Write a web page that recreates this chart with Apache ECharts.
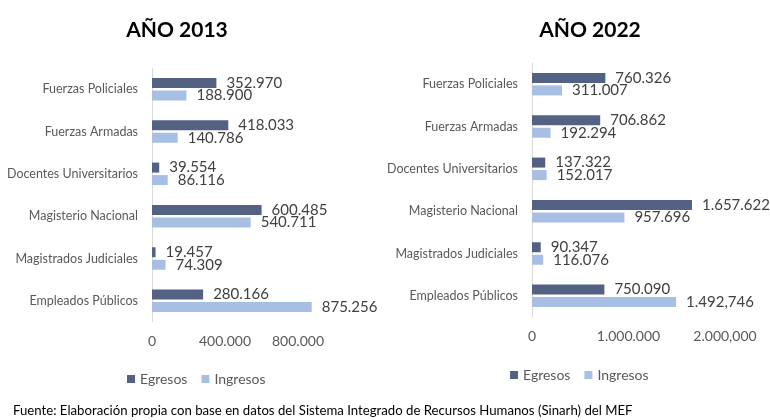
<!DOCTYPE html>
<html><head><meta charset="utf-8">
<script src="https://cdn.jsdelivr.net/npm/echarts@6/dist/echarts.min.js"></script>
<style>html,body{margin:0;padding:0;background:#fff}#c{width:770px;height:420px}</style>
</head><body><div id="c"></div>
<script>
const categories = ['Fuerzas Policiales','Fuerzas Armadas','Docentes Universitarios','Magisterio Nacional','Magistrados Judiciales','Empleados Públicos'];
const egresos2013 = [352970, 418033, 39554, 600485, 19457, 280166];
const ingresos2013 = [188900, 140786, 86116, 540711, 74309, 875256];
const egresos2022 = [760326, 706862, 137322, 1657622, 90347, 750090];
const ingresos2022 = [311007, 192294, 152017, 957696, 116076, 1492746];
const ticks2013 = ['0','400.000','800.000'];
const ticks2022 = ['0','1.000.000','2.000,000'];
const labelOverride = {'1492746': '1.492,746'};
const titles = ['AÑO 2013','AÑO 2022'];
const footer = 'Fuente: Elaboración propia con base en datos del Sistema Integrado de Recursos Humanos (Sinarh) del MEF';

const FONT = 'Lato, "Open Sans", sans-serif';
const C_EG = '#536282', C_IN = '#a8bfe4';
function fmt(v){ if(labelOverride[String(v)]) return labelOverride[String(v)]; return String(v).replace(/\B(?=(\d{3})+(?!\d))/g,'.'); }
function tickFmt(list, interval){ return function(v){ const i = Math.round(v/interval); return (v % interval === 0 && i < list.length) ? list[i] : ''; }; }

const chart = echarts.init(document.getElementById('c'));
function lbl(){ return {show:true, position:'right', distance:10, color:'#404040', fontSize:15, fontFamily:FONT, formatter:p=>fmt(p.value)}; }
chart.setOption({
  animation:false,
  title:[
    {text:titles[0], left:172, top:15, textAlign:'center', textStyle:{fontSize:21, fontWeight:'bold', color:'#000', fontFamily:FONT}},
    {text:titles[1], left:585, top:15, textAlign:'center', textStyle:{fontSize:21, fontWeight:'bold', color:'#000', fontFamily:FONT}},
    {text:footer, left:8, top:399, textStyle:{fontSize:13.2, fontWeight:'normal', color:'#000', fontFamily:FONT}}
  ],
  legend:[
    {data:['Egresos','Ingresos'], left:122, top:367, itemWidth:8, itemHeight:8, itemGap:14, icon:'rect', textStyle:{fontSize:14, color:'#595959', fontFamily:FONT}},
    {data:['Egresos','Ingresos'], left:505, top:363, itemWidth:8, itemHeight:8, itemGap:14, icon:'rect', textStyle:{fontSize:14, color:'#595959', fontFamily:FONT}}
  ],
  grid:[
    {left:152, top:68, width:219, height:254},
    {left:532, top:63, width:193, height:254}
  ],
  xAxis:[
    {gridIndex:0, type:'value', min:0, max:1200000, interval:400000, axisLine:{show:false}, axisTick:{show:false}, splitLine:{show:false},
     axisLabel:{formatter:tickFmt(ticks2013,400000), color:'#595959', fontSize:14, fontFamily:FONT, margin:12}},
    {gridIndex:1, type:'value', min:0, max:2000000, interval:1000000, axisLine:{show:false}, axisTick:{show:false}, splitLine:{show:false},
     axisLabel:{formatter:tickFmt(ticks2022,1000000), color:'#595959', fontSize:14, fontFamily:FONT, margin:12}}
  ],
  yAxis:[
    {gridIndex:0, type:'category', data:categories, inverse:true, axisLine:{lineStyle:{color:'#d9d9d9'}}, axisTick:{show:false},
     axisLabel:{color:'#595959', fontSize:12.5, fontFamily:FONT, margin:14}},
    {gridIndex:1, type:'category', data:categories, inverse:true, axisLine:{lineStyle:{color:'#d9d9d9'}}, axisTick:{show:false},
     axisLabel:{color:'#595959', fontSize:12.5, fontFamily:FONT, margin:14}}
  ],
  series:[
    {name:'Egresos', type:'bar', xAxisIndex:0, yAxisIndex:0, data:egresos2013, barWidth:10, barGap:'25%', itemStyle:{color:C_EG}, label:lbl()},
    {name:'Ingresos', type:'bar', xAxisIndex:0, yAxisIndex:0, data:ingresos2013, barWidth:10, barGap:'25%', itemStyle:{color:C_IN}, label:lbl()},
    {name:'Egresos', type:'bar', xAxisIndex:1, yAxisIndex:1, data:egresos2022, barWidth:10, barGap:'25%', itemStyle:{color:C_EG}, label:lbl()},
    {name:'Ingresos', type:'bar', xAxisIndex:1, yAxisIndex:1, data:ingresos2022, barWidth:10, barGap:'25%', itemStyle:{color:C_IN}, label:lbl()}
  ]
});
</script></body></html>
